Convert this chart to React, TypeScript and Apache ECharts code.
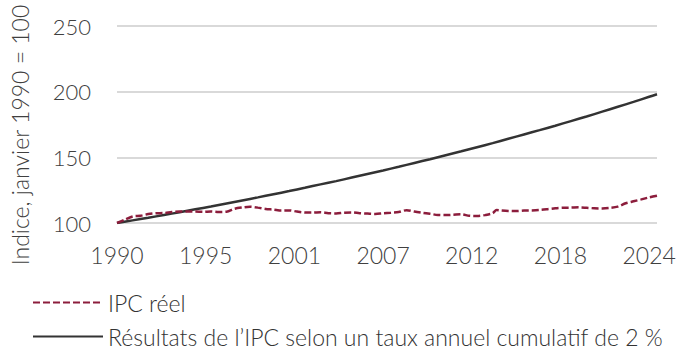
import React, { useEffect, useRef } from "react";
import * as echarts from "echarts";

// Actual CPI (index, January 1990 = 100), sampled by fractional year
const cpiYears = [
  1990.0, 1990.5, 1991.0, 1991.5, 1992.0, 1992.5, 1993.0, 1993.5, 1994.0, 1994.5,
  1995.0, 1995.5, 1996.0, 1996.5, 1997.0, 1997.5, 1998.0, 1998.5, 1999.0, 1999.5,
  2000.0, 2000.5, 2001.0, 2001.5, 2002.0, 2002.5, 2003.0, 2003.5, 2004.0, 2004.5,
  2005.0, 2005.5, 2006.0, 2006.5, 2007.0, 2007.5, 2008.0, 2008.5, 2009.0, 2009.5,
  2010.0, 2010.5, 2011.0, 2011.5, 2012.0, 2012.5, 2013.0, 2013.5, 2014.0, 2014.25,
  2014.5, 2015.0, 2015.5, 2016.0, 2016.5, 2017.0, 2017.5, 2018.0, 2018.5, 2019.0,
  2019.5, 2020.0, 2020.5, 2021.0, 2021.5, 2022.0, 2022.5, 2023.0, 2023.5, 2024.0,
  2024.5,
];
const cpiValues = [
  100.0, 102.5, 105.0, 105.5, 106.8, 107.4, 107.6, 108.3, 108.7, 108.8,
  108.8, 108.5, 108.8, 108.4, 108.6, 110.8, 111.8, 112.4, 111.7, 110.7,
  110.2, 109.5, 109.6, 108.7, 108.0, 107.9, 108.2, 107.5, 107.3, 107.8,
  108.0, 107.5, 107.2, 106.9, 107.4, 107.8, 108.3, 109.8, 108.7, 107.8,
  107.0, 106.1, 106.0, 106.3, 106.6, 105.5, 105.3, 106.0, 107.4, 109.9,
  109.6, 109.2, 109.1, 109.5, 109.6, 109.9, 110.5, 111.2, 111.6, 111.7,
  111.9, 111.6, 111.2, 111.1, 111.5, 112.5, 115.0, 116.5, 118.0, 119.5,
  120.8,
];

// CPI path under a cumulative 2 % annual rate
const pathYears = [
  1990, 1991, 1992, 1993, 1994, 1995, 1996, 1997, 1998, 1999,
  2000, 2001, 2002, 2003, 2004, 2005, 2006, 2007, 2008, 2009,
  2010, 2011, 2012, 2013, 2014, 2015, 2016, 2017, 2018, 2019,
  2020, 2021, 2022, 2023, 2024, 2024.5,
];
const pathValues = [
  100.0, 102.0, 104.0, 106.1, 108.2, 110.4, 112.6, 114.9, 117.2, 119.5,
  121.9, 124.3, 126.8, 129.4, 131.9, 134.6, 137.3, 140.0, 142.8, 145.7,
  148.6, 151.6, 154.6, 157.7, 160.8, 164.1, 167.4, 170.7, 174.1, 177.6,
  181.1, 184.8, 188.5, 192.2, 196.1, 198.0,
];

const seriesNames = [
  "IPC réel",
  "Résultats de l’IPC selon un taux annuel cumulatif de 2 %",
];
const yAxisTitle = "Indice, janvier 1990 = 100";

const FONT = "Lato, 'Open Sans', sans-serif";
const TEXT = "#404040";
const RED = "#8c1d3c";
const DARK = "#333333";

const legendBase = {
  left: 27,
  itemWidth: 70,
  itemHeight: 14,
  itemGap: 6,
  selectedMode: false,
  itemStyle: { opacity: 0 },
  textStyle: {
    fontSize: 23,
    lineHeight: 23,
    fontWeight: 300,
    fontFamily: FONT,
    color: DARK,
  },
};

export default function App() {
  const ref = useRef<HTMLDivElement>(null);

  useEffect(() => {
    if (!ref.current) return;
    const chart = echarts.init(ref.current, null, { renderer: "svg" });
    chart.setOption({
      animation: false,
      backgroundColor: "#ffffff",
      textStyle: { fontFamily: FONT },
      grid: { left: 117, right: 23, top: 26, bottom: 127 },
      xAxis: {
        type: "value",
        min: 1990,
        max: 2024.5,
        interval: 17 / 3,
        axisLine: { show: false },
        axisTick: { show: false },
        splitLine: { show: false },
        axisLabel: {
          showMaxLabel: false,
          hideOverlap: false,
          margin: 20,
          fontSize: 23,
          fontWeight: 300,
          fontFamily: FONT,
          color: TEXT,
          formatter: (v: number) => String(Math.floor(v + 0.01)),
        },
      },
      yAxis: {
        type: "value",
        min: 100,
        max: 250,
        interval: 50,
        axisLine: { show: false },
        axisTick: { show: false },
        splitLine: { lineStyle: { color: "#d9d9d9", width: 2 } },
        axisLabel: {
          margin: 26,
          fontSize: 22,
          fontWeight: 300,
          fontFamily: FONT,
          color: TEXT,
        },
      },
      legend: [
        { ...legendBase, top: 286, data: [seriesNames[0]] },
        { ...legendBase, top: 320, data: [seriesNames[1]] },
      ],
      graphic: [
        {
          type: "text",
          x: 20,
          y: 135,
          rotation: Math.PI / 2,
          style: {
            text: yAxisTitle,
            fontSize: 23,
            fontWeight: 300,
            fontFamily: FONT,
            fill: TEXT,
            textAlign: "center",
            textVerticalAlign: "middle",
          },
        },
      ],
      series: [
        {
          name: seriesNames[0],
          type: "line",
          symbol: "none",
          smooth: 0.3,
          z: 3,
          lineStyle: { color: RED, width: 2.5, type: [7, 3] },
          itemStyle: { color: RED },
          data: cpiYears.map((y, i) => [y, cpiValues[i]]),
        },
        {
          name: seriesNames[1],
          type: "line",
          symbol: "none",
          smooth: 0.3,
          z: 2,
          lineStyle: { color: DARK, width: 2.5 },
          itemStyle: { color: DARK },
          data: pathYears.map((y, i) => [y, pathValues[i]]),
        },
      ],
    });
    return () => chart.dispose();
  }, []);

  return (
    <div
      ref={ref}
      style={{ position: "fixed", left: 0, top: 0, width: 680, height: 350 }}
    />
  );
}
